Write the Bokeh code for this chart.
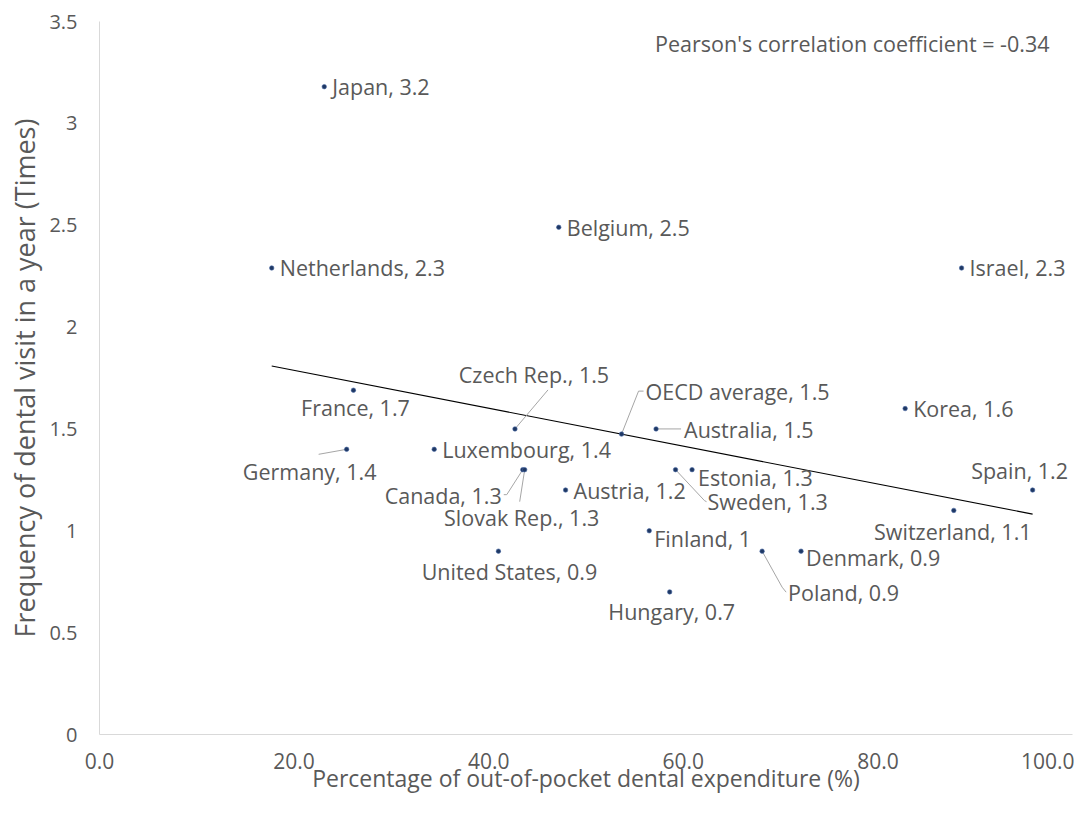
import numpy as np
from bokeh.plotting import figure
from bokeh.models import ColumnDataSource, FixedTicker, CustomJSTickFormatter, Label
from bokeh.embed import file_html
from bokeh.resources import INLINE
from bokeh.core.properties import value

# ---------------- data ----------------
countries = ["Japan", "Belgium", "Netherlands", "Israel", "France", "Czech Rep.",
             "Australia", "Korea", "Germany", "Luxembourg", "Canada", "Slovak Rep.",
             "Austria", "Estonia", "Sweden", "Spain", "Switzerland", "Finland",
             "United States", "Poland", "Denmark", "Hungary"]
oop_share = [23.1, 47.2, 17.7, 88.6, 26.1, 42.7,
             57.2, 82.8, 25.4, 34.4, 43.5, 43.7,
             47.9, 60.9, 59.2, 95.9, 87.8, 56.5,
             41.0, 68.1, 72.1, 58.6]
visits = [3.18, 2.49, 2.29, 2.29, 1.69, 1.5,
          1.5, 1.6, 1.4, 1.4, 1.3, 1.3,
          1.2, 1.3, 1.3, 1.2, 1.1, 1.0,
          0.9, 0.9, 0.9, 0.7]
avg_name = "OECD average"
x_ticks = [0, 20, 40, 60, 80, 100]
y_ticks = [0, 0.5, 1, 1.5, 2, 2.5, 3, 3.5]
x_title = "Percentage of out-of-pocket dental expenditure (%)"
y_title = "Frequency of dental visit in a year (Times)"
pearson_text = "Pearson's correlation coefficient = -0.34"

# OECD average as mean of the countries
avg_x = float(np.mean(oop_share))
avg_y = float(np.mean(visits))

# ---------------- layout (pixel offsets of labels) ----------------
# name: (dx, dy, align, leader)  leader = (elbow_dx, elbow_dy, end_dx, end_dy), screen px, y down
label_layout = {
    "Japan": (8, 0, "left", None),
    "Belgium": (8, 0, "left", None),
    "Netherlands": (8, 0, "left", None),
    "Israel": (8, 0, "left", None),
    "France": (2, 17, "center", None),
    "Czech Rep.": (19, -54, "center", (33, -39, 33, -39)),
    "Australia": (28, 1, "left", (25, 0, 25, 0)),
    "Korea": (8, 0, "left", None),
    "Germany": (-37, 22, "center", (-28, 5, -28, 5)),
    "Luxembourg": (8, 0, "left", None),
    "Canada": (-21, 26, "right", (-16, 25, -19, 25)),
    "Slovak Rep.": (-3, 48, "center", (-5, 32, -5, 32)),
    "Austria": (8, 0, "left", None),
    "Estonia": (6, 8, "left", None),
    "Sweden": (32, 32, "left", (29, 31, 31, 32)),
    "Spain": (-13, -20, "center", None),
    "Switzerland": (-1, 21, "center", None),
    "Finland": (5, 8, "left", None),
    "United States": (11, 20, "center", None),
    "Poland": (26, 41, "left", (20, 36, 24, 41)),
    "Denmark": (5, 6, "left", None),
    "Hungary": (2, 20, "center", None),
    "OECD average": (24, -43, "left", (17, -43, 22, -43)),
}

W, H = 1074, 797
BL, BR, BT, BB = 99, 2, 21, 63
FRAME_W, FRAME_H = W - BL - BR, H - BT - BB
X_MAX, Y_MAX = 100.0, 3.5
pxx = FRAME_W / X_MAX
pxy = FRAME_H / Y_MAX

FONT = "Open Sans"
GRAY = "#595959"

p = figure(width=W, height=H,
           x_range=(0, X_MAX), y_range=(0, Y_MAX),
           output_backend="svg", toolbar_location=None,
           min_border_left=BL, min_border_right=BR,
           min_border_top=BT, min_border_bottom=BB,
           background_fill_color="white", border_fill_color="white")
p.outline_line_color = None
p.grid.visible = False

# axes
p.xaxis.ticker = FixedTicker(ticks=x_ticks)
p.yaxis.ticker = FixedTicker(ticks=y_ticks)
p.xaxis.formatter = CustomJSTickFormatter(code="return tick.toFixed(1);")
p.yaxis.formatter = CustomJSTickFormatter(code="return String(tick);")
for ax in (p.xaxis[0], p.yaxis[0]):
    ax.axis_line_color = "#d9d9d9"
    ax.axis_line_width = 1
    ax.major_tick_line_color = None
    ax.minor_tick_line_color = None
    ax.major_tick_out = 0
    ax.major_tick_in = 0
    ax.minor_tick_out = 0
    ax.major_label_text_color = GRAY
    ax.major_label_text_font = FONT
    ax.axis_label_text_color = GRAY
    ax.axis_label_text_font = FONT
    ax.axis_label_text_font_style = "normal"
p.xaxis.major_label_text_font_size = "21px"
p.yaxis.major_label_text_font_size = "20px"
p.xaxis.major_label_standoff = 18
p.yaxis.major_label_standoff = 22
p.xaxis.axis_label = x_title
p.yaxis.axis_label = y_title
p.xaxis.axis_label_text_font_size = "23px"
p.yaxis.axis_label_text_font_size = "27px"
p.xaxis.axis_label_standoff = -10
p.yaxis.axis_label_standoff = 3

# trend line (least squares)
slope, intercept = np.polyfit(oop_share, visits, 1)
tx = np.array([min(oop_share), max(oop_share)])
p.line(tx, slope * tx + intercept, line_color="black", line_width=1.1)

# all points
names = countries + [avg_name]
xs = list(oop_share) + [avg_x]
ys = list(visits) + [avg_y]
labels = []
for n, v in zip(names, ys):
    r = round(v, 1)
    labels.append(f"{n}, {r:g}")

dxs, dys, aligns = [], [], []
sx0, sy0, sx1, sy1 = [], [], [], []
for n, x, y in zip(names, xs, ys):
    dx, dy, al, leader = label_layout[n]
    dxs.append(dx)
    dys.append(dy)
    aligns.append(al)
    if leader is not None:
        ex, ey, fx, fy = leader
        sx0.append(x); sy0.append(y)
        sx1.append(x + ex / pxx); sy1.append(y - ey / pxy)
        sx0.append(x + ex / pxx); sy0.append(y - ey / pxy)
        sx1.append(x + fx / pxx); sy1.append(y - fy / pxy)

p.segment(x0=sx0, y0=sy0, x1=sx1, y1=sy1, line_color="#a6a6a6", line_width=1)

src = ColumnDataSource(dict(x=xs, y=ys, label=labels, dx=dxs, dy=dys, align=aligns))
p.scatter("x", "y", source=src, size=4.5, fill_color="#1f3864",
          line_color="#4a6aa5", line_width=0.6)
p.text("x", "y", text="label", source=src, x_offset="dx", y_offset="dy",
       text_align="align", text_baseline="middle",
       text_font=value(FONT), text_font_size="21.5px", text_color=GRAY)

p.add_layout(Label(x=X_MAX, y=Y_MAX, x_units="data", y_units="data",
                   x_offset=-23, y_offset=-22, text=pearson_text,
                   text_align="right", text_baseline="middle",
                   text_font=FONT, text_font_size="21.5px", text_color=GRAY))

open("out.html", "w").write(file_html(p, INLINE))
